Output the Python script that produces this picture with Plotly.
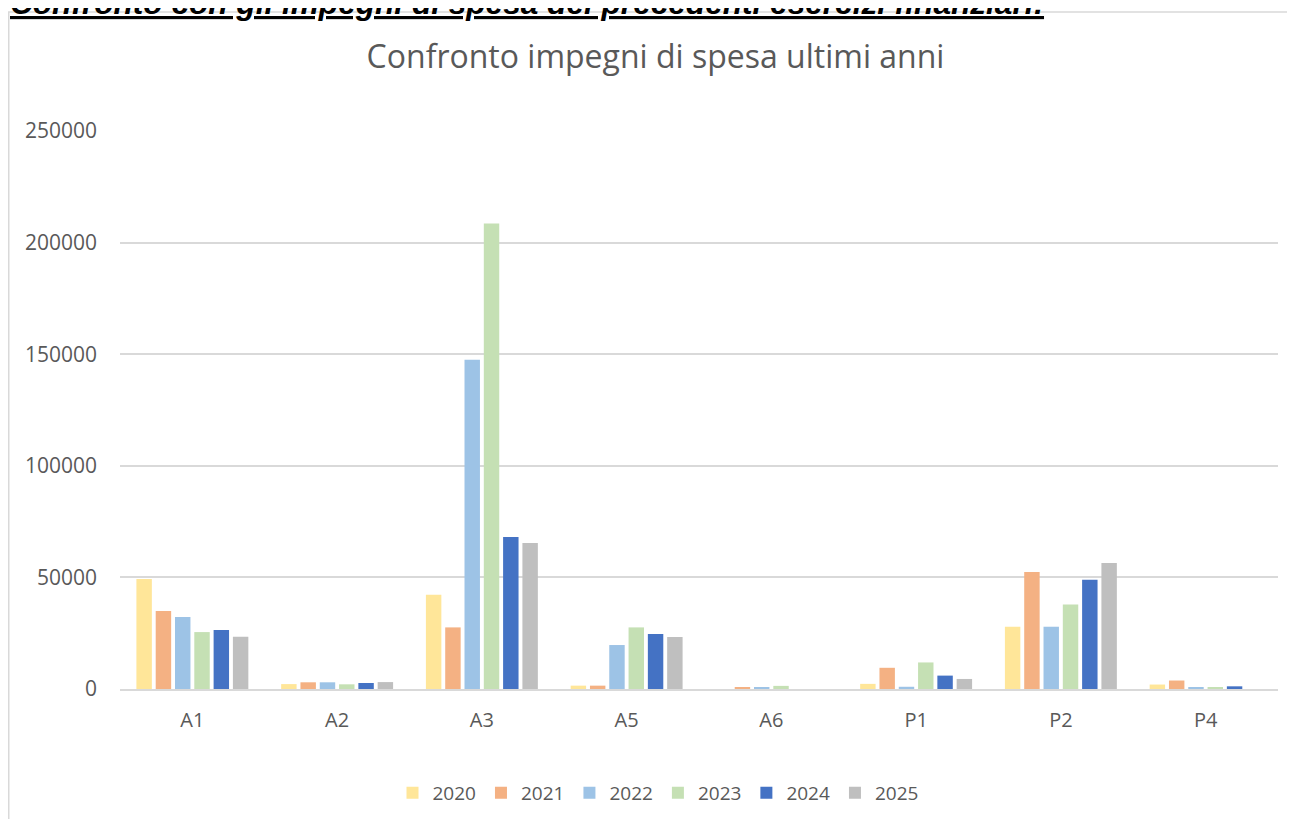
import plotly.graph_objects as go

categories = ["A1", "A2", "A3", "A5", "A6", "P1", "P2", "P4"]
years = ["2020", "2021", "2022", "2023", "2024", "2025"]
v2020 = [49300, 2200, 42200, 1500, 0, 2300, 27900, 2000]
v2021 = [35000, 3000, 27600, 1500, 500, 9500, 52400, 3800]
v2022 = [32300, 3000, 147500, 19700, 500, 1000, 27900, 800]
v2023 = [25500, 2100, 208600, 27600, 1400, 11900, 37900, 800]
v2024 = [26400, 2700, 68100, 24600, 0, 6000, 49000, 1200]
v2025 = [23400, 3100, 65400, 23300, 0, 4500, 56400, 0]
series = [v2020, v2021, v2022, v2023, v2024, v2025]
colors = ["#FFE699", "#F4B183", "#9DC3E6", "#C5E0B4", "#4472C4", "#BFBFBF"]

title_text = "Confronto impegni di spesa ultimi anni"
header_text = "Confronto con gli impegni di spesa dei precedenti esercizi finanziari:"
y_ticks = [0, 50000, 100000, 150000, 200000, 250000]

font_family = "Open Sans, Liberation Sans, sans-serif"
text_color = "#595959"

W, H = 1295, 819
L, T, B = 112, 123, 138
R = 25
PW = W - L - R
PH = H - T - B

fig = go.Figure()
for yr, vals, col in zip(years, series, colors):
    fig.add_trace(go.Bar(
        x=categories, y=vals, name=yr,
        marker=dict(color=col, line=dict(width=0)),
    ))

fig.update_layout(
    width=W, height=H,
    margin=dict(l=L, r=R, t=T, b=B),
    paper_bgcolor="white", plot_bgcolor="white",
    barmode="group", bargap=0.2, bargroupgap=0.2,
    font=dict(family=font_family, color=text_color, size=20),
    title=dict(text=title_text, x=0.5, xanchor="center", y=1 - 49 / H, yanchor="middle",
               font=dict(size=32, color=text_color, family=font_family)),
    showlegend=True,
    legend=dict(orientation="h", x=(650 - L) / PW, xanchor="center",
                y=((H - B) - 785) / PH, yanchor="middle",
                font=dict(size=19, color=text_color), traceorder="normal",
                itemwidth=30),
    xaxis=dict(showgrid=False, showline=True, linecolor="#D9D9D9", linewidth=2,
               ticks="", tickfont=dict(size=20, color=text_color), ticklabelstandoff=12),
    yaxis=dict(range=[0, 250000], tickvals=y_ticks, ticktext=[str(t) for t in y_ticks],
               showgrid=True, gridcolor="#D9D9D9", gridwidth=1.5, zeroline=False,
               showline=False, ticks="", tickfont=dict(size=21, color=text_color),
               ticklabelstandoff=22),
)

# chart-area frame
fig.add_shape(type="rect", xref="paper", yref="paper",
              x0=(0.75 - L) / PW, x1=(W + 20 - L) / PW,
              y0=((H - B) - (H + 20)) / PH, y1=((H - B) - 4) / PH,
              line=dict(color="#D9D9D9", width=1.5), fillcolor="rgba(0,0,0,0)", layer="below")

# header text above the chart (cut off at the top edge like in the reference)
fig.add_annotation(text="<b><i><u>" + header_text + "</u></i></b>", xref="paper", yref="paper",
                   x=(0 - L) / PW, xanchor="left", y=((H - B) + 5) / PH, yanchor="middle",
                   showarrow=False,
                   font=dict(size=31.6, color="black", family="Liberation Sans, Arial, sans-serif"))

fig.write_html("out.html")
